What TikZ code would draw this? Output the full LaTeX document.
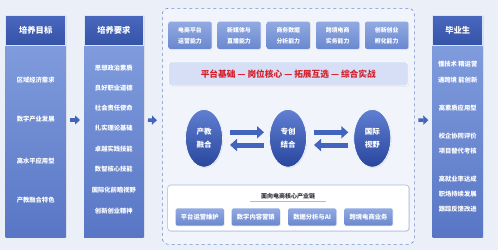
\documentclass[tikz,border=0pt]{standalone}
\usepackage{fontspec}
\setmainfont{Noto Sans CJK SC}
\usepackage{tikz}
\usetikzlibrary{arrows.meta, positioning, shapes.geometric, shadows}
\definecolor{pagebg}{RGB}{235, 239, 248}
\definecolor{corebg}{RGB}{241, 244, 251}
\definecolor{headtop}{RGB}{74, 104, 190}
\definecolor{headbot}{RGB}{52, 82, 166}
\definecolor{bodytop}{RGB}{134, 162, 225}
\definecolor{bodybot}{RGB}{88, 118, 197}
\definecolor{captop}{RGB}{146, 170, 226}
\definecolor{capbot}{RGB}{106, 136, 207}
\definecolor{ovaltop}{RGB}{96, 128, 210}
\definecolor{ovalbot}{RGB}{40, 70, 156}
\definecolor{bannerbg}{RGB}{214, 223, 246}
\definecolor{bannerred}{RGB}{212, 32, 42}
\definecolor{dashblue}{RGB}{112, 138, 202}
\definecolor{arrowblue}{RGB}{66, 100, 188}
\definecolor{darktext}{RGB}{50, 50, 60}

\begin{document}
\begin{tikzpicture}[x=1pt, y=-1pt,
  every node/.style={font=\fontsize{6.3}{7.5}\selectfont\bfseries, text=white, inner sep=0pt, outer sep=0pt},
  lift/.style={drop shadow={opacity=0.15, shadow xshift=0.8pt, shadow yshift=-0.8pt}},
  column/.style={rectangle, lift, top color=bodytop, bottom color=bodybot, minimum height=222pt},
  colhead/.style={rectangle, top color=headtop, bottom color=headbot, draw=white!70!bodytop,
                  line width=0.5pt, minimum height=30.7pt, font=\fontsize{8.3}{9}\selectfont\bfseries},
  capbox/.style={rectangle, rounded corners=2pt, lift, top color=captop, bottom color=capbot,
              minimum width=43.3pt, minimum height=27.3pt, align=center,
              font=\fontsize{5.9}{11}\selectfont\bfseries},
  oval/.style={ellipse, draw=white, line width=0.6pt, lift, top color=ovaltop, bottom color=ovalbot,
               minimum width=37pt, minimum height=57.7pt, align=center,
               font=\fontsize{7.5}{13}\selectfont\bfseries},
  chip/.style={rectangle, rounded corners=1.5pt, lift, top color=captop, bottom color=capbot,
               minimum width=48.3pt, minimum height=17.3pt},
  flow/.style={-{Triangle[length=5pt, width=9pt]}, line width=3.5pt, arrowblue},
  swap/.style={-{Triangle[length=7pt, width=12pt]}, line width=5pt, arrowblue}]

  \fill[pagebg] (0,0) rectangle (498,250);
  \useasboundingbox (0,0) rectangle (498,250);

  % ---------- 培养目标 ----------
  \node[column, minimum width=60pt] (goal) at (35.7,126) {};
  \node[colhead, minimum width=60pt] (goalhd) at (35.7,30.35) {培养目标};
  \foreach \y/\t [count=\i] in {80/区域经济需求, 119.5/数字产业发展, 160.7/高水平应用型, 200/产教融合特色}{
    \node (g\i) at (35.7,\y) {\t};
  }

  % ---------- 培养要求 ----------
  \node[column, minimum width=59.7pt] (req) at (113.85,126) {};
  \node[colhead, minimum width=59.7pt] (reqhd) at (113.85,30.35) {培养要求};
  \foreach \y/\t [count=\i] in {67.7/思想政治素质, 88/良好职业道德, 108.3/社会责任使命, 128.3/扎实理论基础,
                                149/卓越实践技能, 169.3/数智核心技能, 190/国际化前瞻视野, 210.7/创新创业精神}{
    \node (r\i) at (113.85,\y) {\t};
  }

  % ---------- core ----------
  \node[rectangle, draw=dashblue, dashed, line width=0.6pt, rounded corners=6pt, fill=corebg,
        minimum width=252pt, minimum height=236pt] (core) at (288.3,126.3) {};
  \foreach \x/\t [count=\i] in {190/电商平台\\运营能力, 239/新媒体与\\直播能力, 288.3/商务数据\\分析能力,
                                337.7/跨境电商\\实务能力, 386.7/创新创业\\孵化能力}{
    \node[capbox] (t\i) at (\x,35.3) {\t};
  }
  \node[rectangle, rounded corners=3pt, fill=bannerbg, draw=white, line width=0.8pt, lift,
        minimum width=240pt, minimum height=24.3pt, text=bannerred,
        font=\fontsize{8.7}{10}\selectfont\bfseries] (banner) at (288.3,73.8)
        {平台基础 — 岗位核心 — 拓展互选 — 综合实战};

  \node[oval] (ea) at (204,138.3) {产教\\融合};
  \node[oval] (eb) at (288,138.3) {专创\\结合};
  \node[oval] (ec) at (372.3,138.3) {国际\\视野};
  \draw[swap, shorten <=7.5pt, shorten >=5.5pt] ([yshift=6pt]ea.east) -- ([yshift=6pt]eb.west);
  \draw[swap, shorten <=5.5pt, shorten >=7.5pt] ([yshift=-6.7pt]eb.west) -- ([yshift=-6.7pt]ea.east);
  \draw[swap, shorten <=7.5pt, shorten >=5.5pt] ([yshift=6pt]eb.east) -- ([yshift=6pt]ec.west);
  \draw[swap, shorten <=5.5pt, shorten >=7.5pt] ([yshift=-6.7pt]ec.west) -- ([yshift=-6.7pt]eb.east);

  \node[rectangle, rounded corners=3pt, fill=white, draw=dashblue!60, line width=0.6pt, lift,
        minimum width=241.3pt, minimum height=46pt] (chain) at (288.3,208) {};
  \node[text=darktext, font=\fontsize{6}{7}\selectfont\bfseries, minimum width=76pt,
        minimum height=9pt] (chainhd) at (288,196.7) {面向电商核心产业链};
  \draw[dashblue!60, line width=0.5pt] (chainhd.south west) -- (chainhd.south east);
  \foreach \x/\t [count=\i] in {199.8/平台运营维护, 255.8/数字内容营销, 312.2/数据分析与AI, 368.5/跨境电商业务}{
    \node[chip] (c\i) at (\x,217) {\t};
  }

  % ---------- 毕业生 ----------
  \node[column, minimum width=50pt] (grad) at (457.7,126) {};
  \node[colhead, minimum width=50pt] (gradhd) at (457.7,30.35) {毕业生};
  \foreach \y/\t [count=\i] in {64.3/懂技术 精运营, 80/通跨境 能创新, 107.7/高素质应用型, 135.7/校企协同评价,
                                150.7/项目替代考核, 179/高就业率达成, 194/职场持续发展, 209.3/跟踪反馈改进}{
    \node (d\i) at (457.7,\y) {\t};
  }

  % ---------- flow ----------
  \draw[flow, shorten <=4.3pt, shorten >=4pt] ([yshift=6pt]goal.east) -- ([yshift=6pt]req.west);
  \draw[flow, shorten <=4.3pt, shorten >=5.3pt] ([yshift=6pt]req.east) -- ([yshift=6pt]core.west);
  \draw[flow, shorten <=4pt, shorten >=4.4pt] ([yshift=6pt]core.east) -- ([yshift=6pt]grad.west);
\end{tikzpicture}
\end{document}
